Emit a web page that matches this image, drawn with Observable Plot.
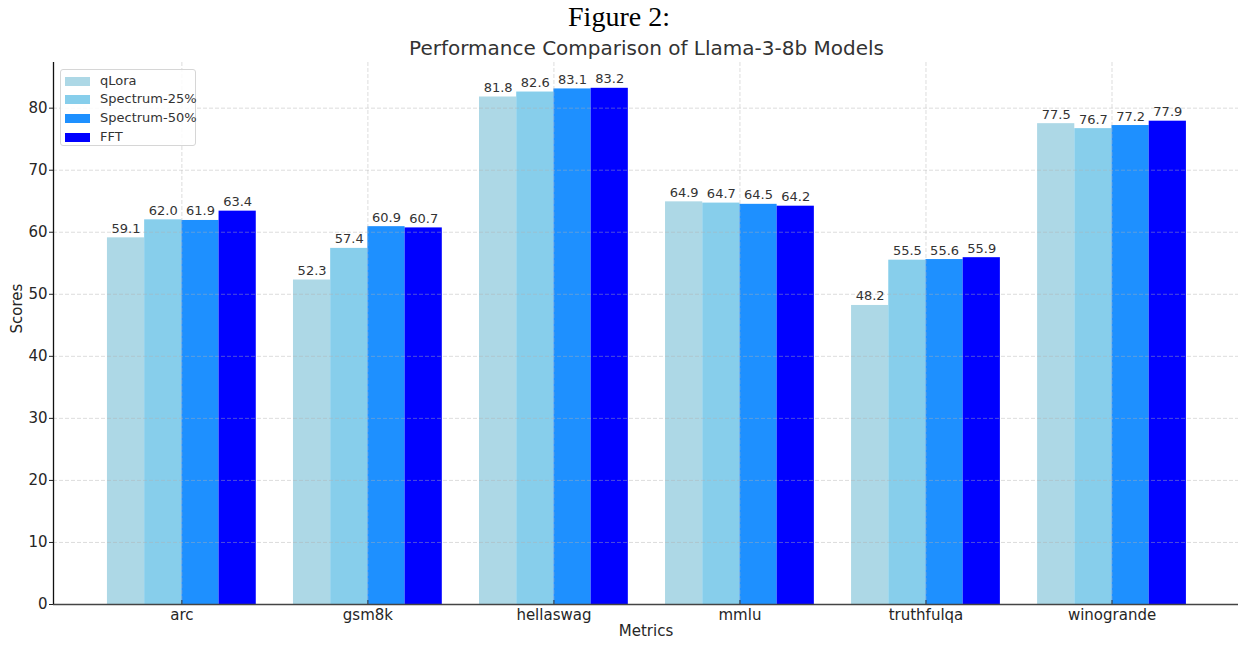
<!DOCTYPE html>
<html>
<head>
<meta charset="utf-8">
<script src="https://cdn.jsdelivr.net/npm/d3@7"></script>
<script src="https://cdn.jsdelivr.net/npm/@observablehq/plot@0.6"></script>
<style>
  html, body { margin: 0; padding: 0; background: #fff; }
  #wrap { position: relative; width: 1238px; height: 646px; overflow: hidden; font-family: "DejaVu Sans", sans-serif; }
  #title { position: absolute; left: 0; top: 0; width: 1238px; text-align: center; font-family: "Liberation Serif", "DejaVu Serif", serif; font-size: 28px; line-height: 34px; color: #000; }
  #subtitle { position: absolute; left: 53px; top: 35px; width: 1187px; text-align: center; font-size: 20px; line-height: 26px; color: #333; }
  #chart { position: absolute; left: 0; top: 0; }
  #legend { position: absolute; left: 60px; top: 69px; width: 136px; height: 77px; border: 1px solid #d6d6d6; border-radius: 3px; background: rgba(255,255,255,0.85); box-sizing: border-box; }
  .lrow { position: absolute; left: 0; height: 18px; line-height: 18px; font-size: 13px; color: #333; white-space: nowrap; }
  .lsw { position: absolute; left: 4px; top: 5px; width: 25px; height: 9px; }
  .ltx { position: absolute; left: 39px; top: 0; }
</style>
</head>
<body>
<div id="wrap">
  <div id="chart"></div>
  <div id="title">Figure 2:</div>
  <div id="subtitle">Performance Comparison of Llama-3-8b Models</div>
  <div id="legend"></div>
</div>
<script>
const metrics = ["arc", "gsm8k", "hellaswag", "mmlu", "truthfulqa", "winogrande"];
const models = ["qLora", "Spectrum-25%", "Spectrum-50%", "FFT"];
const qLora = [59.1, 52.3, 81.8, 64.9, 48.2, 77.5];
const spectrum25 = [62.0, 57.4, 82.6, 64.7, 55.5, 76.7];
const spectrum50 = [61.9, 60.9, 83.1, 64.5, 55.6, 77.2];
const fft = [63.4, 60.7, 83.2, 64.2, 55.9, 77.9];
const colors = ["#ADD8E6", "#87CEEB", "#1E90FF", "#0000FF"];
const yTicks = [0, 10, 20, 30, 40, 50, 60, 70, 80];

const series = [qLora, spectrum25, spectrum50, fft];
const barW = 0.2;
const rows = [];
metrics.forEach((m, mi) => {
  series.forEach((vals, si) => {
    const x1 = mi - 0.4 + si * barW;
    rows.push({metric: m, mi, model: models[si], si, value: vals[mi], x1, x2: x1 + barW, xc: x1 + barW / 2});
  });
});
const xIdx = metrics.map((_, i) => i);
const xMin = -0.69;

const chart = Plot.plot({
  width: 1238,
  height: 646,
  marginTop: 62,
  marginBottom: 42,
  marginLeft: 53,
  marginRight: 0,
  style: {fontFamily: "DejaVu Sans", fontSize: "15px", color: "#262626", background: "transparent"},
  x: {type: "linear", domain: [xMin, 5.68]},
  y: {domain: [0, 87.36]},
  color: {domain: models, range: colors},
  marks: [
    Plot.rect(rows, {x1: "x1", x2: "x2", y1: 0, y2: "value", fill: "model"}),
    Plot.ruleY(yTicks.slice(1), {stroke: "#b0b0b0", strokeOpacity: 0.55, strokeDasharray: "4,2", strokeWidth: 0.8}),
    Plot.ruleX(xIdx, {stroke: "#b0b0b0", strokeOpacity: 0.55, strokeDasharray: "4,2", strokeWidth: 0.8}),
    Plot.text(rows, {x: "xc", y: "value", text: d => d.value.toFixed(1), lineAnchor: "bottom", dy: -5, fontSize: 13, fill: "#333"}),
    Plot.axisY({ticks: yTicks, tickSize: 4, tickPadding: 2, label: null, stroke: "#222"}),
    Plot.axisX({ticks: xIdx, tickFormat: i => metrics[i], tickSize: 0, tickPadding: 5, label: null}),
    Plot.ruleX(xIdx, {y1: 0, y2: 0, insetTop: -4, stroke: "#333"}),
    Plot.ruleY([0], {stroke: "#444", strokeWidth: 1.3}),
    Plot.ruleX([xMin], {stroke: "#111", strokeWidth: 1.3}),
    Plot.text(["Scores"], {frameAnchor: "left", rotate: -90, dx: -36, fontSize: 15, fill: "#262626"}),
    Plot.text(["Metrics"], {frameAnchor: "bottom", dy: 31, fontSize: 15, fill: "#262626"})
  ]
});
document.getElementById("chart").appendChild(chart);

const legend = document.getElementById("legend");
const rowTops = [2, 20, 39, 58];
models.forEach((m, i) => {
  const r = document.createElement("div");
  r.className = "lrow";
  r.style.top = rowTops[i] + "px";
  const sw = document.createElement("div");
  sw.className = "lsw";
  sw.style.background = colors[i];
  const tx = document.createElement("div");
  tx.className = "ltx";
  tx.textContent = m;
  r.appendChild(sw);
  r.appendChild(tx);
  legend.appendChild(r);
});
</script>
</body>
</html>
